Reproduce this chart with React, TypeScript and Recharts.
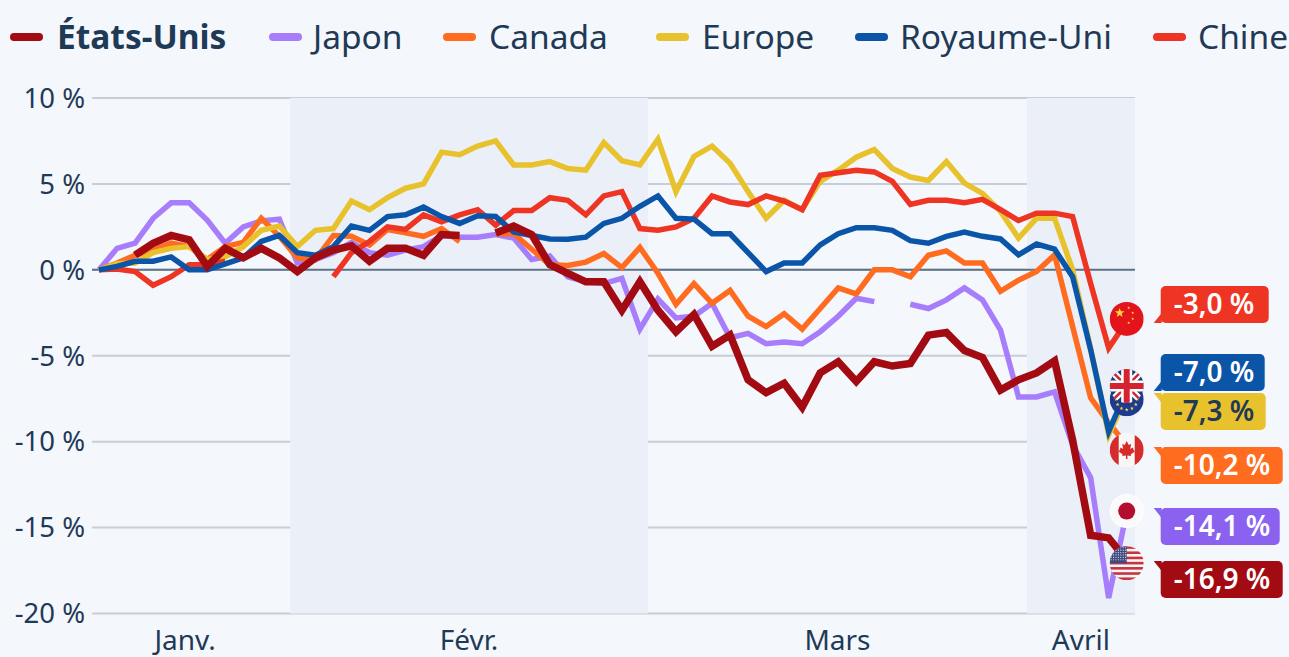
import { CartesianGrid, Line, LineChart, ReferenceArea, ReferenceLine, XAxis, YAxis } from 'recharts';

const FONT = '"Noto Sans", sans-serif';
const INK = '#1f3a57';

// trading day index, one entry per day from early January to the April drop
const usa = [null, null, 0.85, 1.55, 2.0, 1.75, 0.2, 1.25, 0.7, 1.25, 0.7, -0.1, 0.7, 1.15, 1.4, 0.5, 1.25, 1.25, 0.85, 2.05, 2.0, null, 2.15, 2.55, 2.05, 0.3, -0.2, -0.7, -0.7, -2.35, -0.7, -2.35, -3.6, -2.6, -4.45, -3.8, -6.4, -7.15, -6.6, -8.0, -6.0, -5.35, -6.5, -5.35, -5.6, -5.45, -3.8, -3.65, -4.7, -5.1, -7.0, -6.4, -6.0, -5.3, -9.9, -15.45, -15.6, -16.9];
const japan = [0, 1.25, 1.55, 3.0, 3.9, 3.9, 2.9, 1.55, 2.5, 2.85, 2.95, 0.4, 0.6, 1.0, 1.6, 1.0, 0.85, 1.15, 1.35, 2.0, 1.9, 1.9, 2.05, 1.85, 0.6, 0.8, -0.4, -0.7, -0.8, -0.5, -3.45, -1.7, -2.8, -2.7, -1.95, -3.95, -3.7, -4.3, -4.2, -4.3, -3.6, -2.7, -1.65, -1.85, null, -2.0, -2.25, -1.75, -1.05, -1.75, -3.5, -7.4, -7.4, -7.1, -10.2, -12.1, -19.1, -14.1];
const canada = [0, 0.4, 0.85, 1.15, 1.55, 1.35, 0.6, 1.35, 1.6, 3.0, 1.95, 0.7, 0.6, 2.0, 1.95, 1.45, 2.35, 2.15, 1.95, 2.4, 1.65, null, 2.1, 2.1, 1.2, 0.3, 0.25, 0.45, 0.95, 0.13, 1.3, -0.2, -2.0, -0.8, -1.95, -1.2, -2.7, -3.3, -2.55, -3.45, -2.25, -1.05, -1.4, 0, 0, -0.4, 0.85, 1.1, 0.4, 0.4, -1.25, -0.6, -0.1, 0.87, -3.3, -7.45, -8.9, -10.2];
const europe = [0, 0.35, 0.4, 1.0, 1.25, 1.35, 0.6, 0.75, 1.35, 2.3, 2.55, 1.35, 2.3, 2.4, 4.0, 3.5, 4.2, 4.75, 5.0, 6.85, 6.7, 7.2, 7.5, 6.1, 6.1, 6.3, 5.9, 5.8, 7.4, 6.35, 6.1, 7.6, 4.55, 6.6, 7.2, 6.2, 4.55, 3.0, 4.05, 3.5, 5.15, 5.8, 6.55, 7.0, 5.9, 5.4, 5.2, 6.3, 5.05, 4.45, 3.4, 1.85, 3.0, 3.0, 0, -4.6, -9.6, -7.3];
const uk = [0, 0.2, 0.5, 0.5, 0.75, 0, 0, 0.35, 0.7, 1.65, 2.0, 1.0, 0.85, 1.35, 2.55, 2.3, 3.1, 3.2, 3.65, 3.1, 2.7, 3.15, 3.1, 2.2, 2.0, 1.8, 1.78, 1.9, 2.7, 3.0, 3.7, 4.3, 3.0, 2.95, 2.1, 2.1, 1.0, -0.1, 0.4, 0.4, 1.45, 2.1, 2.45, 2.45, 2.3, 1.7, 1.55, 1.95, 2.2, 1.95, 1.8, 0.87, 1.5, 1.2, -0.4, -4.65, -9.4, -7.0];
const china = [0, 0.05, -0.1, -0.9, -0.4, 0.3, 0.3, 0.5, null, null, null, null, null, -0.4, 1.0, 1.65, 2.5, 2.35, 3.2, 2.8, 3.2, 3.5, 2.6, 3.45, 3.45, 4.2, 4.05, 3.2, 4.3, 4.55, 2.4, 2.3, 2.5, 3.0, 4.3, 3.95, 3.8, 4.3, 4.0, 3.5, 5.5, 5.65, 5.8, 5.7, 5.15, 3.8, 4.05, 4.05, 3.9, 4.1, 3.5, 2.87, 3.3, 3.3, 3.1, -0.8, -4.55, -3.0];

const chartData = usa.map((_, day) => ({
  day,
  usa: usa[day],
  japan: japan[day],
  canada: canada[day],
  europe: europe[day],
  uk: uk[day],
  china: china[day],
}));

const yTicks = [-20, -15, -10, -5, 0, 5, 10];
const monthTicks = [4.77, 20.52, 40.96, 54.46];
const monthLabels = ['Janv.', 'Févr.', 'Mars', 'Avril'];

const COLORS = {
  usa: '#a30b12',
  japan: '#a77dfb',
  canada: '#ff6c1f',
  europe: '#e8c22c',
  uk: '#0a55a8',
  china: '#ee3524',
};

const legendItems = [
  { label: 'États-Unis', color: COLORS.usa, swatch: 10, text: 57, bold: true },
  { label: 'Japon', color: COLORS.japan, swatch: 269, text: 313 },
  { label: 'Canada', color: COLORS.canada, swatch: 443, text: 489 },
  { label: 'Europe', color: COLORS.europe, swatch: 656, text: 702 },
  { label: 'Royaume-Uni', color: COLORS.uk, swatch: 855, text: 900 },
  { label: 'Chine', color: COLORS.china, swatch: 1153, text: 1198 },
];

function Star({ x, y, r, fill = '#ffd83a' }: { x: number; y: number; r: number; fill?: string }) {
  const pts = [];
  for (let i = 0; i < 10; i++) {
    const a = -Math.PI / 2 + (i * Math.PI) / 5;
    const rad = i % 2 ? r * 0.42 : r;
    pts.push(`${x + rad * Math.cos(a)},${y + rad * Math.sin(a)}`);
  }
  return <polygon points={pts.join(' ')} fill={fill} />;
}

function ChinaFlag() {
  return (
    <g>
      <rect x={-17} y={-17} width={34} height={34} fill="#e3141b" />
      <Star x={-7} y={-6} r={5} />
      <Star x={2} y={-11} r={1.6} />
      <Star x={6} y={-6} r={1.6} />
      <Star x={6} y={0} r={1.6} />
      <Star x={2} y={4} r={1.6} />
    </g>
  );
}

function UkFlag() {
  return (
    <g>
      <rect x={-17} y={-17} width={34} height={34} fill="#1f3a77" />
      <path d="M-17,-17 L17,17 M17,-17 L-17,17" stroke="#fff" strokeWidth={7} />
      <path d="M-17,-17 L17,17 M17,-17 L-17,17" stroke="#d5222f" strokeWidth={2.5} />
      <path d="M0,-17 V17 M-17,0 H17" stroke="#fff" strokeWidth={11} />
      <path d="M0,-17 V17 M-17,0 H17" stroke="#d5222f" strokeWidth={6} />
    </g>
  );
}

function EuFlag() {
  const stars = [];
  for (let i = 0; i < 12; i++) {
    const a = (i * Math.PI) / 6;
    stars.push(<Star key={i} x={10.5 * Math.cos(a)} y={10.5 * Math.sin(a)} r={2} />);
  }
  return (
    <g>
      <rect x={-17} y={-17} width={34} height={34} fill="#1d3c8f" />
      {stars}
    </g>
  );
}

function CanadaFlag() {
  return (
    <g>
      <rect x={-17} y={-17} width={34} height={34} fill="#f7f7f7" />
      <rect x={-17} y={-17} width={9} height={34} fill="#d52b2b" />
      <rect x={8} y={-17} width={9} height={34} fill="#d52b2b" />
      <path
        d="M0,-9 L2,-5 L4.5,-6 L3.5,-1 L6,-2.5 L7,0 L8,1.5 L4,4.5 L4.5,6 L0.7,5.5 L0.7,9 L-0.7,9 L-0.7,5.5 L-4.5,6 L-4,4.5 L-8,1.5 L-7,0 L-6,-2.5 L-3.5,-1 L-4.5,-6 L-2,-5 Z"
        fill="#d52b2b"
      />
    </g>
  );
}

function JapanFlag() {
  return (
    <g>
      <rect x={-17} y={-17} width={34} height={34} fill="#fafafa" />
      <circle r={8.5} fill="#b40d2e" />
    </g>
  );
}

function UsaFlag() {
  const stripes = [];
  for (let i = 0; i < 7; i++) {
    stripes.push(<rect key={i} x={-17} y={-17 + i * 5.2} width={34} height={2.6} fill="#c8333f" />);
  }
  const dots = [];
  for (let r = 0; r < 6; r++) {
    for (let c = 0; c < 7; c++) {
      dots.push(<circle key={`${r}-${c}`} cx={-15.5 + c * 2.4} cy={-15.5 + r * 2.4} r={0.6} fill="#e8eaf2" />);
    }
  }
  return (
    <g>
      <rect x={-17} y={-17} width={34} height={34} fill="#f6f6f6" />
      {stripes}
      <rect x={-17} y={-17} width={17} height={17} fill="#3c4a80" />
      {dots}
    </g>
  );
}

const endTags = {
  china: { flag: ChinaFlag, flagDy: -2.5, text: '-3,0 %', fill: '#ee3524', ink: '#fff', top: 286, w: 108, tip: 'bottom' },
  uk: { flag: UkFlag, flagDy: -4, text: '-7,0 %', fill: '#0a55a8', ink: '#fff', top: 354, w: 104, tip: 'bottom' },
  europe: { flag: EuFlag, flagDy: 4, text: '-7,3 %', fill: '#e8c22c', ink: '#1f3a57', top: 393, w: 105, tip: 'top' },
  canada: { flag: CanadaFlag, flagDy: 5, text: '-10,2 %', fill: '#ff6c1f', ink: '#fff', top: 447, w: 122, tip: 'top' },
  japan: { flag: JapanFlag, flagDy: -1, text: '-14,1 %', fill: '#8b62f0', ink: '#fff', top: 508, w: 119, tip: 'top' },
  usa: { flag: UsaFlag, flagDy: 3, text: '-16,9 %', fill: '#a30b12', ink: '#fff', top: 561, w: 122, tip: 'top' },
};

const LAST_DAY = usa.length - 1;

const endDot = (id: keyof typeof endTags) => (props: any) => {
  const { cx, cy, index } = props;
  if (index !== LAST_DAY) return <g key={index} />;
  const tag = endTags[id];
  const Flag = tag.flag;
  const left = cx + 34;
  const tipY = tag.tip === 'bottom' ? tag.top + 37 : tag.top;
  const innerY = tag.tip === 'bottom' ? tipY - 10 : tipY + 10;
  return (
    <g key={index}>
      <clipPath id={`flag-${id}`}>
        <circle r={id === 'japan' ? 16 : 17} />
      </clipPath>
      <g transform={`translate(${cx},${cy + tag.flagDy})`}>
        {id === 'japan' && <circle r={17} fill="#fff" />}
        <g clipPath={`url(#flag-${id})`}>
          <Flag />
        </g>
      </g>
      <path d={`M${left - 7},${tipY} L${left + 1},${tipY} L${left + 1},${innerY} Z`} fill={tag.fill} />
      <rect x={left} y={tag.top} width={tag.w} height={37} rx={5} fill={tag.fill} />
      <text
        x={left + 13}
        y={tag.top + 28}
        fontFamily={FONT}
        fontSize={28}
        fontWeight={600}
        fill={tag.ink}
      >
        {tag.text}
      </text>
    </g>
  );
};

function MonthTick(props: any) {
  const { x, y, index } = props;
  return (
    <text x={x} y={y + 28} textAnchor="middle" fontFamily={FONT} fontSize={28} fill={INK}>
      {monthLabels[index]}
    </text>
  );
}

export default function App() {
  return (
    <div style={{ position: 'absolute', left: 0, top: 0, width: 1289, height: 657, background: '#f4f7fb', overflow: 'hidden' }}>
      {legendItems.map((item) => (
        <div key={item.label}>
          <div
            style={{
              position: 'absolute',
              left: item.swatch,
              top: 33,
              width: 33,
              height: 8,
              borderRadius: 4,
              background: item.color,
            }}
          />
          <div
            style={{
              position: 'absolute',
              left: item.text,
              top: 15,
              fontFamily: FONT,
              fontSize: 33.5,
              lineHeight: '42px',
              fontWeight: item.bold ? 700 : 400,
              color: INK,
              whiteSpace: 'nowrap',
            }}
          >
            {item.label}
          </div>
        </div>
      ))}
      <LineChart
        width={1289}
        height={657}
        data={chartData}
        margin={{ top: 98, right: 154, bottom: 0, left: 0 }}
        style={{ position: 'absolute', left: 0, top: 0 }}
      >
        <ReferenceArea x1={10.6} x2={30.45} fill="#ebf0f8" fillOpacity={1} stroke="none" />
        <ReferenceArea x1={51.47} x2={57.46} fill="#ebf0f8" fillOpacity={1} stroke="none" />
        <CartesianGrid vertical={false} stroke="#c7ced7" strokeWidth={2} />
        <XAxis
          dataKey="day"
          type="number"
          domain={[-0.39, 57.46]}
          ticks={monthTicks}
          interval={0}
          height={43.5}
          axisLine={false}
          tickLine={false}
          tick={<MonthTick />}
        />
        <YAxis
          domain={[-20, 10]}
          ticks={yTicks}
          width={92}
          axisLine={false}
          tickLine={false}
          tickMargin={1}
          tickFormatter={(v: number) => `${v} %`}
          tick={{ fontFamily: FONT, fontSize: 27.5, fill: INK }}
        />
        <ReferenceLine y={0} stroke="#5d7187" strokeWidth={2} />
        <Line dataKey="japan" stroke={COLORS.japan} strokeWidth={5.5} dot={endDot('japan')} activeDot={false} isAnimationActive={false} />
        <Line dataKey="canada" stroke={COLORS.canada} strokeWidth={5.5} dot={endDot('canada')} activeDot={false} isAnimationActive={false} />
        <Line dataKey="europe" stroke={COLORS.europe} strokeWidth={5.5} dot={endDot('europe')} activeDot={false} isAnimationActive={false} />
        <Line dataKey="china" stroke={COLORS.china} strokeWidth={5.5} dot={endDot('china')} activeDot={false} isAnimationActive={false} />
        <Line dataKey="uk" stroke={COLORS.uk} strokeWidth={5.5} dot={endDot('uk')} activeDot={false} isAnimationActive={false} />
        <Line dataKey="usa" stroke={COLORS.usa} strokeWidth={7.5} dot={endDot('usa')} activeDot={false} isAnimationActive={false} />
      </LineChart>
    </div>
  );
}
